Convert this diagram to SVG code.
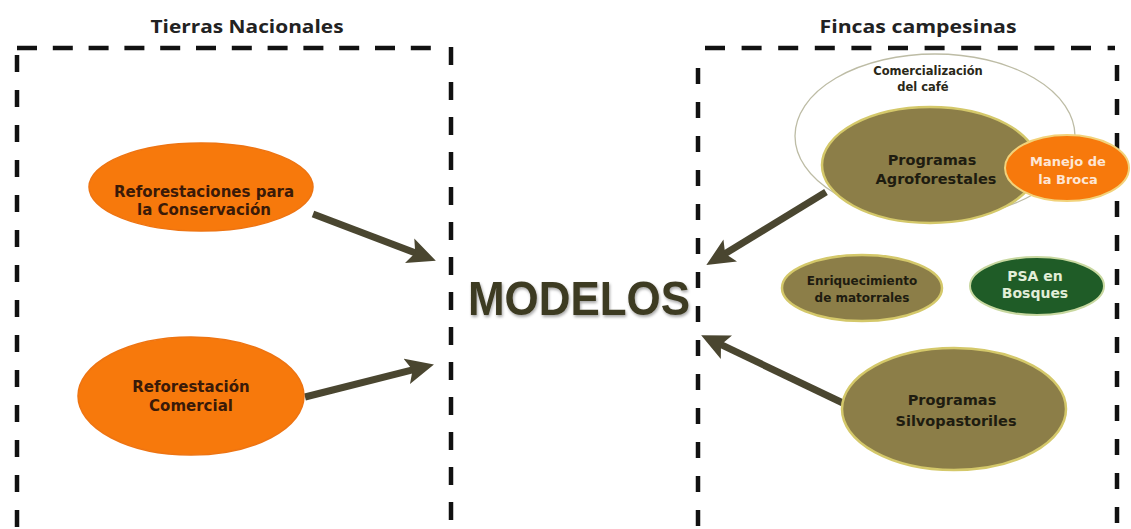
<svg xmlns="http://www.w3.org/2000/svg" width="1131" height="529" viewBox="0 0 1131 529">
<defs>
<style>
.title{font-family:"Open Sans","Liberation Sans",sans-serif;font-weight:700;font-size:18.5px;fill:#222;text-anchor:middle}
.lbl{font-family:"DejaVu Sans","Liberation Sans",sans-serif;font-weight:bold;text-anchor:middle}
.hd{fill:none;stroke:#111;stroke-width:4.5}
.orange{fill:#f7790c;stroke:#ee7412;stroke-width:1.5}
.olive{fill:#8c7e48;stroke:#d4c86a;stroke-width:2.5}
.green{fill:#1f5c27;stroke:#c8d8a0;stroke-width:2}
.conn{stroke:#4a4630;stroke-width:7;fill:none}
</style>
<marker id="ah" markerUnits="userSpaceOnUse" markerWidth="30" markerHeight="28" viewBox="0 0 30 28" refX="10" refY="14" orient="auto">
<path d="M0,1 L28,14 L0,27 L6,14 Z" fill="#4a4630"/>
</marker>
<filter id="sh" x="-20%" y="-20%" width="140%" height="140%">
<feDropShadow dx="1" dy="2" stdDeviation="1.5" flood-color="#000" flood-opacity="0.35"/>
</filter>
</defs>
<rect width="1131" height="529" fill="#fff"/>

<g id="frame-tierras">
<line class="hd" x1="17" y1="48" x2="436" y2="48" stroke-dasharray="20 15.8"/>
<line class="hd" x1="17" y1="55" x2="17" y2="529" stroke-dasharray="17 18"/>
<line class="hd" x1="451" y1="47" x2="451" y2="529" stroke-dasharray="18 17"/>
<text class="title" x="247" y="33" textLength="193" lengthAdjust="spacingAndGlyphs">Tierras Nacionales</text>
</g>

<g id="frame-fincas">
<line class="hd" x1="705" y1="48" x2="1115" y2="48" stroke-dasharray="20 16.6"/>
<line class="hd" x1="698" y1="68" x2="698" y2="529" stroke-dasharray="16 18"/>
<line class="hd" x1="1117" y1="65" x2="1117" y2="529" stroke-dasharray="16 18"/>
<text class="title" x="918" y="33" textLength="197" lengthAdjust="spacingAndGlyphs">Fincas campesinas</text>
</g>

<g id="connectors">
<line class="conn" x1="313" y1="214" x2="419" y2="254.3" marker-end="url(#ah)"/>
<line class="conn" x1="305" y1="397" x2="416.5" y2="368.9" marker-end="url(#ah)"/>
<line class="conn" x1="826" y1="192" x2="721.7" y2="255.7" marker-end="url(#ah)"/>
<line class="conn" x1="845" y1="404" x2="717.4" y2="342.9" marker-end="url(#ah)"/>
</g>

<g id="modelos">
<text x="579" y="315" font-family="Liberation Sans, Arial, sans-serif" font-weight="bold" font-size="48" fill="#3e3b24" text-anchor="middle" textLength="222" lengthAdjust="spacingAndGlyphs" filter="url(#sh)">MODELOS</text>
</g>

<g id="reforestaciones-conservacion">
<ellipse class="orange" cx="201" cy="187" rx="112" ry="44"/>
<text class="lbl" font-size="15" fill="#3a1a08"><tspan x="204" y="197">Reforestaciones para</tspan><tspan x="204" y="215">la Conservación</tspan></text>
</g>

<g id="reforestacion-comercial">
<ellipse class="orange" cx="191" cy="396" rx="113" ry="59"/>
<text class="lbl" font-size="15" fill="#3a1a08"><tspan x="191" y="392">Reforestación</tspan><tspan x="191" y="411">Comercial</tspan></text>
</g>

<g id="comercializacion">
<ellipse cx="935" cy="136" rx="140" ry="82" fill="#fff" stroke="#bdbca5" stroke-width="1.3"/>
<text class="lbl" font-size="11.5" fill="#2a2818"><tspan x="928" y="75">Comercialización</tspan><tspan x="923" y="91">del café</tspan></text>
</g>

<g id="agroforestales">
<ellipse class="olive" cx="930" cy="165" rx="108" ry="58"/>
<text class="lbl" font-size="14.5" fill="#1e1c10"><tspan x="932" y="165">Programas</tspan><tspan x="936" y="184">Agroforestales</tspan></text>
</g>

<g id="manejo-broca">
<ellipse cx="1067" cy="168" rx="62" ry="33" fill="#f7790c" stroke="#f2d27a" stroke-width="2"/>
<text class="lbl" font-size="13" fill="#fde6d6"><tspan x="1068" y="166">Manejo de</tspan><tspan x="1068" y="184">la Broca</tspan></text>
</g>

<g id="enriquecimiento">
<ellipse class="olive" cx="862" cy="288" rx="80" ry="33"/>
<text class="lbl" font-size="12" fill="#1e1c10"><tspan x="862" y="285">Enriquecimiento</tspan><tspan x="862" y="302">de matorrales</tspan></text>
</g>

<g id="psa-bosques">
<ellipse class="green" cx="1037" cy="286" rx="67" ry="29"/>
<text class="lbl" font-size="14" fill="#e2eed8"><tspan x="1035" y="281">PSA en</tspan><tspan x="1035" y="298">Bosques</tspan></text>
</g>

<g id="silvopastoriles">
<ellipse class="olive" cx="954" cy="409" rx="112" ry="61"/>
<text class="lbl" font-size="14.5" fill="#1e1c10"><tspan x="952" y="405">Programas</tspan><tspan x="956" y="426">Silvopastoriles</tspan></text>
</g>
</svg>
